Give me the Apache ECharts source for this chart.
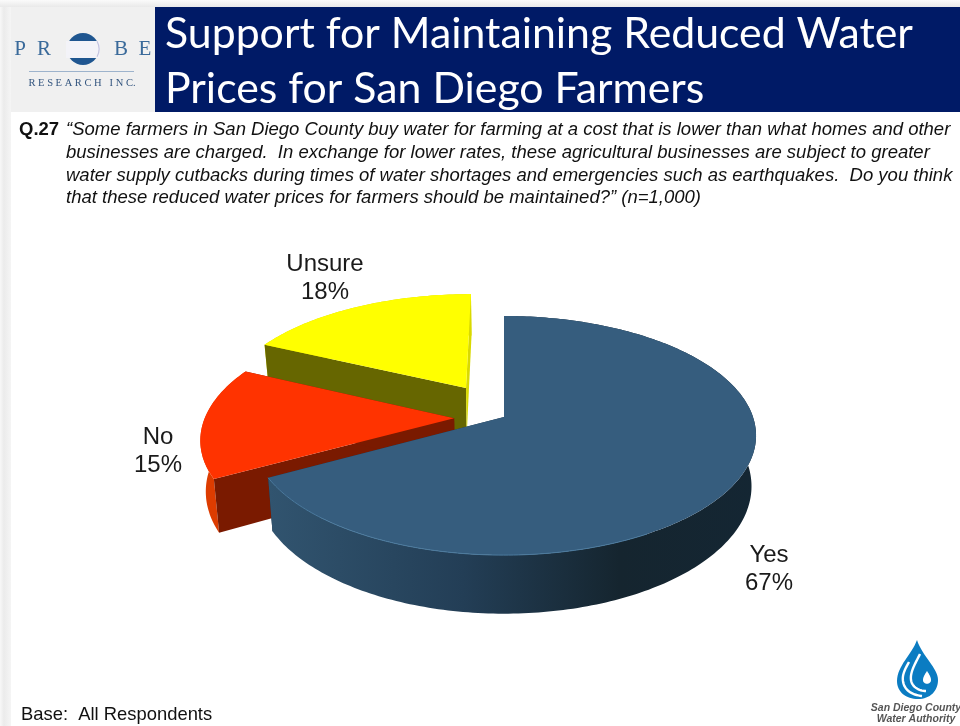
<!DOCTYPE html>
<html>
<head>
<meta charset="utf-8">
<style>html,body{margin:0;padding:0;background:#fff}#c{width:960px;height:726px}</style>
<script src="https://cdn.jsdelivr.net/npm/echarts@6/dist/echarts.min.js"></script>
</head>
<body>
<div id="c"></div>
<script>
const categories = ['Yes', 'No', 'Unsure'];
const values = [67, 15, 18];
const titleText = 'Support for Maintaining Reduced Water\nPrices for San Diego Farmers';
const questionId = 'Q.27';
const questionLines = [
  '\u201cSome farmers in San Diego County buy water for farming at a cost that is lower than what homes and other',
  'businesses are charged.  In exchange for lower rates, these agricultural businesses are subject to greater',
  'water supply cutbacks during times of water shortages and emergencies such as earthquakes.  Do you think',
  'that these reduced water prices for farmers should be maintained?\u201d (n=1,000)'
];
const baseNote = 'Base:  All Respondents';

// projection of the tilted pie
const CX = 504, CY = 417, RX = 249, RY = 116.7, K = 0.155, DEPTH = 49.5, BOTTOM_SCALE = 0.982;
const sliceStyles = [
  { top: '#365d7e', startFace: '#1d3448', endFace: '#1d3448', endFaceZ: 0, explodeU: 0, explodeV: 0, labelX: 769, labelY: 569.5,
    rim: { type: 'linear', x: 269, y: 0, x2: 756, y2: 0, global: true, colorStops: [
      { offset: 0, color: '#31546f' }, { offset: 0.4, color: '#233e56' },
      { offset: 0.72, color: '#15252f' }, { offset: 1, color: '#142633' }] }, highlight: '#4b7a9e' },
  { top: '#ff3300', startFace: '#7a1a00', endFace: '#7a1a00', endFaceZ: 3, explodeU: -0.2, explodeV: 0.01, labelX: 158, labelY: 451.5,
    rim: '#dd3c00', highlight: null },
  { top: '#ffff00', startFace: '#666600', endFace: '#d9d900', endFaceZ: 3, explodeU: -0.1587, explodeV: -0.2585, labelX: 325, labelY: 278.5,
    rim: '#d9d900', highlight: null }
];

function project(theta, r, ex, ey) {
  const u = Math.sin(theta) * r + ex, v = -Math.cos(theta) * r + ey;
  const s = 1 / (1 - K * v);
  const x = CX + RX * u * s, y = CY + RY * v * s;
  return { top: [x, y], bottom: [CX + (x - CX) * BOTTOM_SCALE, y + DEPTH * s] };
}

const total = values.reduce((a, b) => a + b, 0);

function renderSlice(params, api) {
  const i = params.dataIndex;
  const st = sliceStyles[i];
  let before = 0;
  for (let j = 0; j < i; j++) before += values[j];
  const a0 = before / total * Math.PI * 2;
  const a1 = (before + api.value(0)) / total * Math.PI * 2;
  const steps = Math.max(8, Math.round((a1 - a0) * 180 / Math.PI));
  const arc = [];
  for (let n = 0; n <= steps; n++) arc.push(project(a0 + (a1 - a0) * n / steps, 1, st.explodeU, st.explodeV));
  const apex = project(0, 0, st.explodeU, st.explodeV);
  const first = arc[0], last = arc[arc.length - 1];
  const base = (2 - i) * 10;
  const kids = [];
  kids.push({ type: 'polygon', z2: base + 1, silent: true,
    shape: { points: arc.map(p => p.top).concat(arc.map(p => p.bottom).reverse()) },
    style: { fill: st.rim } });
  kids.push({ type: 'polygon', z2: base + 2, silent: true,
    shape: { points: [apex.top, first.top, first.bottom, apex.bottom] },
    style: { fill: st.startFace } });
  kids.push({ type: 'polygon', z2: base + st.endFaceZ, silent: true,
    shape: { points: [apex.top, last.top, last.bottom, apex.bottom] },
    style: { fill: st.endFace } });
  kids.push({ type: 'polygon', z2: base + 4, silent: true,
    shape: { points: [apex.top].concat(arc.map(p => p.top)) },
    style: { fill: st.top } });
  if (st.highlight) {
    const from = Math.floor(arc.length * 0.62);
    kids.push({ type: 'polyline', z2: base + 5, silent: true,
      shape: { points: arc.slice(from).map(p => p.top) },
      style: { fill: null, stroke: st.highlight, lineWidth: 1 } });
  }
  kids.push({ type: 'text', z2: 100, silent: true,
    style: { x: st.labelX, y: st.labelY, text: categories[i] + '\n' + api.value(0) + '%',
      fill: '#1a1a1a', font: '24px "Liberation Sans"', lineHeight: 28, align: 'center', verticalAlign: 'middle' } });
  return { type: 'group', children: kids };
}

// cubic curve sampled to points, for the logo artwork
function curve(p0, c1, c2, p3) {
  const out = [];
  for (let n = 0; n <= 16; n++) {
    const t = n / 16, m = 1 - t;
    out.push([
      m*m*m*p0[0] + 3*m*m*t*c1[0] + 3*m*t*t*c2[0] + t*t*t*p3[0],
      m*m*m*p0[1] + 3*m*m*t*c1[1] + 3*m*t*t*c2[1] + t*t*t*p3[1]
    ]);
  }
  return out;
}
const logoText = (x, y, text, font, fill) => ({ type: 'text', z: 1, silent: true,
  style: { x, y, text, font, fill, align: 'center', verticalAlign: 'middle' } });
const dropOutline = [].concat(
  curve([917, 640], [912, 654], [897, 666], [897, 681]),
  curve([897, 681], [897, 692], [906, 699], [918, 699]),
  curve([918, 699], [930, 699], [938, 691], [938, 680]),
  curve([938, 680], [938, 668], [922, 656], [917, 640]));
const dropCore = [].concat(
  curve([927, 671], [925, 674], [923, 677], [923, 680]),
  curve([923, 680], [923, 685], [931, 685], [931, 680]),
  curve([931, 680], [931, 677], [929, 674], [927, 671]));
const swirlA = [].concat(
  curve([909, 662], [905, 669], [902, 675], [903, 681]),
  curve([903, 681], [904, 690], [912, 695], [922, 696]));
const swirlB = [].concat(
  curve([920, 654], [915, 664], [910, 672], [911, 680]),
  curve([911, 680], [912, 687], [919, 691], [926, 691]));

const graphics = [
  { type: 'rect', z: -10, silent: true, shape: { x: 0, y: 0, width: 960, height: 726 }, style: { fill: '#ffffff' } },
  { type: 'rect', z: -9, silent: true, shape: { x: 0, y: 0, width: 11, height: 726 },
    style: { fill: { type: 'linear', x: 0, y: 0, x2: 1, y2: 0, colorStops: [
      { offset: 0, color: '#f8f8f8' }, { offset: 0.35, color: '#ebebeb' }, { offset: 1, color: '#f5f5f5' }] } } },
  { type: 'rect', z: -9, silent: true, shape: { x: 0, y: 0, width: 960, height: 7 },
    style: { fill: { type: 'linear', x: 0, y: 0, x2: 0, y2: 1, colorStops: [
      { offset: 0, color: '#fbfbfb' }, { offset: 1, color: '#e9e9e9' }] } } },
  { type: 'rect', z: -8, silent: true, shape: { x: 11, y: 7, width: 144, height: 105 }, style: { fill: '#f0f0f0' } },
  { type: 'rect', z: -8, silent: true, shape: { x: 155, y: 7, width: 805, height: 105 }, style: { fill: '#001a66' } },
  // Probe Research logo
  logoText(20, 49, 'P', '21px "Liberation Serif"', '#3a6a9a'),
  logoText(44, 49, 'R', '21px "Liberation Serif"', '#3a6a9a'),
  logoText(121, 49, 'B', '21px "Liberation Serif"', '#3a6a9a'),
  logoText(145, 49, 'E', '21px "Liberation Serif"', '#3a6a9a'),
  { type: 'circle', z: 1, silent: true, shape: { cx: 83, cy: 49, r: 16 }, style: { fill: '#1f5690' } },
  { type: 'rect', z: 1, silent: true, shape: { x: 66, y: 41, width: 34, height: 17 }, style: { fill: '#f3f3f8' } },
  { type: 'arc', z: 1, silent: true, shape: { cx: 83, cy: 49, r: 16, startAngle: -0.5, endAngle: 0.5 }, style: { fill: null, stroke: '#c4c4e0', lineWidth: 1.2 } },
  { type: 'line', z: 1, silent: true, shape: { x1: 29, y1: 71.5, x2: 134, y2: 71.5 }, style: { stroke: '#9db3cc', lineWidth: 1 } },
  logoText(82, 83, 'R E S E A R C H   I N C.', '10.5px "Liberation Serif"', '#33557f'),
  // Question
  { type: 'text', z: 1, silent: true, style: { x: 19, y: 130, text: questionId, font: 'bold 18.5px "Liberation Sans"', fill: '#111', verticalAlign: 'middle' } }
].concat(questionLines.map((t, i) => ({
  type: 'text', z: 1, silent: true,
  style: { x: 66, y: 130 + i * 22.7, text: t, font: 'italic 18.5px "Liberation Sans"', fill: '#111', verticalAlign: 'middle' }
}))).concat([
  { type: 'text', z: 1, silent: true, style: { x: 21, y: 715, text: baseNote, font: '18.4px "Liberation Sans"', fill: '#111', verticalAlign: 'middle' } },
  // Water Authority logo
  { type: 'polygon', z: 1, silent: true, shape: { points: dropOutline }, style: { fill: '#0b7cc2' } },
  { type: 'polyline', z: 1, silent: true, shape: { points: swirlA }, style: { fill: null, stroke: '#ffffff', lineWidth: 2.4 } },
  { type: 'polyline', z: 1, silent: true, shape: { points: swirlB }, style: { fill: null, stroke: '#ffffff', lineWidth: 2.4 } },
  { type: 'polygon', z: 1, silent: true, shape: { points: dropCore }, style: { fill: '#ffffff' } },
  logoText(916, 708, 'San Diego County', 'italic bold 10.5px "Liberation Sans"', '#555'),
  logoText(916, 719, 'Water Authority', 'italic bold 10.5px "Liberation Sans"', '#555')
]);

const chart = echarts.init(document.getElementById('c'), null, { renderer: 'canvas', width: 960, height: 726 });
chart.setOption({
  animation: false,
  backgroundColor: '#fff',
  title: { text: titleText, left: 160, top: 2,
    textStyle: { color: '#fff', fontFamily: 'Lato', fontWeight: 'normal', fontSize: 42.8, lineHeight: 55 } },
  graphic: graphics,
  series: [{
    type: 'custom',
    coordinateSystem: 'none',
    silent: true,
    data: values.map((v, i) => ({ name: categories[i], value: [v] })),
    renderItem: renderSlice
  }]
});
</script>
</body>
</html>
